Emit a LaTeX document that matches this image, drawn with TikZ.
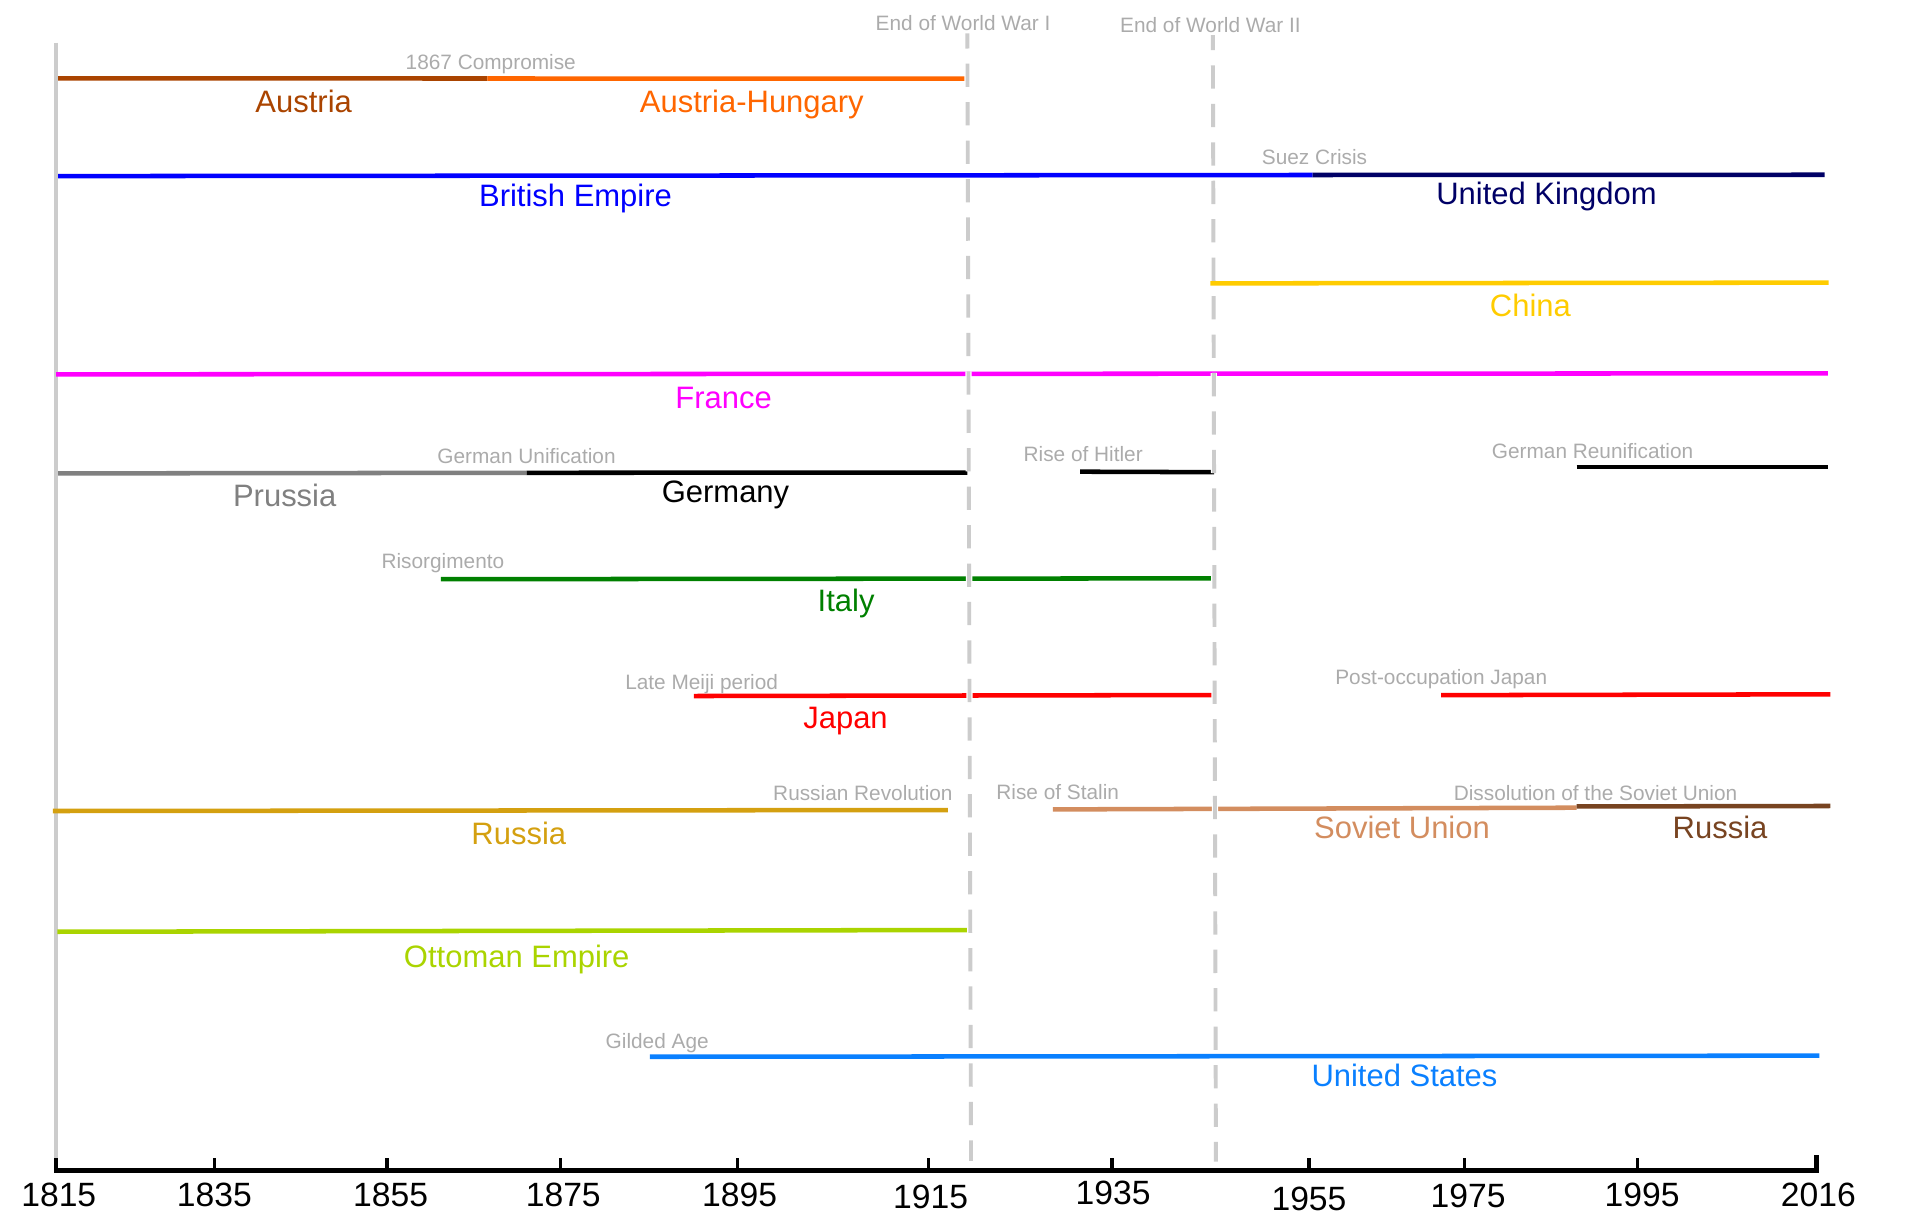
\documentclass[tikz,border=0pt]{standalone}
\usepackage{fontspec}
\setmainfont{Liberation Sans}
\definecolor{notegray}{HTML}{ABABAB}
\definecolor{linegray}{HTML}{CCCCCC}
\definecolor{cAustria}{HTML}{AA4400}
\definecolor{cAH}{HTML}{FF6600}
\definecolor{cBritish}{HTML}{0000FF}
\definecolor{cUK}{HTML}{000066}
\definecolor{cChina}{HTML}{FFCC00}
\definecolor{cFrance}{HTML}{FF00FF}
\definecolor{cPrussia}{HTML}{808080}
\definecolor{cGermany}{HTML}{000000}
\definecolor{cItaly}{HTML}{008000}
\definecolor{cJapan}{HTML}{FF0000}
\definecolor{cRussia}{HTML}{D4A010}
\definecolor{cSoviet}{HTML}{D38D5F}
\definecolor{cRussiaNew}{HTML}{784421}
\definecolor{cOttoman}{HTML}{AAD400}
\definecolor{cUS}{HTML}{0A80FF}
\begin{document}
\begin{tikzpicture}[x=0.5pt,y=-0.5pt,
  bar/.style={line width=1.85pt,line cap=butt},
  mainlbl/.style={anchor=base,inner sep=0pt,font=\fontsize{12.65}{15}\selectfont},
  notelbl/.style={anchor=base,inner sep=0pt,text=notegray,font=\fontsize{8.5}{10}\selectfont},
  yearlbl/.style={anchor=base,inner sep=0pt,font=\fontsize{13.75}{16}\selectfont},
  warhalo/.style={draw=white,line width=2.6pt,dash pattern=on 9.5pt off 6.2pt,dash phase=3.3pt},
  warline/.style={draw=linegray,line width=1.6pt,dash pattern=on 9.5pt off 6.2pt,dash phase=3.3pt},
  tickline/.style={line width=1.35pt,black},
  axisline/.style={line width=1.9pt,black,line join=miter}]
\useasboundingbox (0,0) rectangle (1568,1003.6);

% left vertical reference line
\coordinate (vtop) at (45.8,34.8);
\coordinate (vbot) at (45.8,950);
\draw[linegray,line width=1.55pt] (vtop) -- (vbot);

% ---------- coordinates of bars ----------
\coordinate (aus1) at (47.5,64);
\coordinate (aus2) at (398,64.1);
\coordinate (ah2) at (788,64.2);
\coordinate (be1) at (47.5,143.8);
\coordinate (be2) at (1072,142.9);
\coordinate (uk2) at (1490,142.7);
\coordinate (ch1) at (988.5,231.4);
\coordinate (ch2) at (1493.4,230.8);
\coordinate (fr1) at (45.8,305.7);
\coordinate (fr2) at (1492.8,304.9);
\coordinate (pr1) at (47.5,386.6);
\coordinate (pr2) at (430,386.1);
\coordinate (ge2) at (790,385.9);
\coordinate (hi1) at (882,385.2);
\coordinate (hi2) at (991.6,385.6);
\coordinate (gr1) at (1287.5,381.4);
\coordinate (gr2) at (1493.2,381.4);
\coordinate (it1) at (360,473);
\coordinate (it2) at (990,472.3);
\coordinate (jp1) at (566.7,568.4);
\coordinate (jp2) at (990,567.6);
\coordinate (pj1) at (1177,567.7);
\coordinate (pj2) at (1494.8,567);
\coordinate (ru1) at (43.2,662.3);
\coordinate (ru2) at (774,661.5);
\coordinate (su1) at (859.9,661);
\coordinate (su2) at (1287.5,659.6);
\coordinate (rn2) at (1494.8,658.2);
\coordinate (rn1) at (1287.5,658.6);
\coordinate (ot1) at (46.9,760.9);
\coordinate (ot2) at (791,759.5);
\coordinate (us1) at (530.8,863);
\coordinate (us2) at (1485.8,862.1);

% ---------- bars ----------
\draw[bar,cAustria] (aus1) -- (aus2);
\draw[bar,cAH] (aus2) -- (ah2);
\draw[bar,cBritish] (be1) -- (be2);
\draw[bar,cUK] (be2) -- (uk2);
\draw[bar,cChina] (ch1) -- (ch2);
\draw[bar,cFrance] (fr1) -- (fr2);
\draw[bar,cPrussia] (pr1) -- (pr2);
\draw[bar,cGermany] (pr2) -- (ge2);
\draw[bar,cGermany] (hi1) -- (hi2);
\draw[bar,cGermany] (gr1) -- (gr2);
\draw[bar,cItaly] (it1) -- (it2);
\draw[bar,cJapan] (jp1) -- (jp2);
\draw[bar,cJapan] (pj1) -- (pj2);
\draw[bar,cRussia] (ru1) -- (ru2);
\draw[bar,cSoviet] (su1) -- (su2);
\draw[bar,cRussiaNew] (rn1) -- (rn2);
\draw[bar,cOttoman] (ot1) -- (ot2);
\draw[bar,cUS] (us1) -- (us2);

% ---------- war lines ----------
\coordinate (w1top) at (790,27.2);
\coordinate (w1bot) at (793,948);
\coordinate (w2top) at (990.5,28.6);
\coordinate (w2bot) at (993,948.7);
\draw[warhalo] (w1top) -- (w1bot);
\draw[warline] (w1top) -- (w1bot);
\draw[warhalo] (w2top) -- (w2bot);
\draw[warline] (w2top) -- (w2bot);

% ---------- main labels ----------
\node[mainlbl,text=cAustria] (lAustria) at (248,91.6) {Austria};
\node[mainlbl,text=cAH] (lAH) at (614,91.8) {Austria-Hungary};
\node[mainlbl,text=cBritish] (lBE) at (470,168.8) {British Empire};
\node[mainlbl,text=cUK] (lUK) at (1263,167.3) {United Kingdom};
\node[mainlbl,text=cChina] (lChina) at (1249.8,258.4) {China};
\node[mainlbl,text=cFrance] (lFrance) at (591,333.2) {France};
\node[mainlbl,text=cPrussia] (lPrussia) at (232.5,413.4) {Prussia};
\node[mainlbl,text=cGermany] (lGermany) at (592.5,410.2) {Germany};
\node[mainlbl,text=cItaly] (lItaly) at (691,499.2) {Italy};
\node[mainlbl,text=cJapan] (lJapan) at (690.5,594.8) {Japan};
\node[mainlbl,text=cRussia] (lRussia) at (423.7,689.8) {Russia};
\node[mainlbl,text=cSoviet] (lSoviet) at (1145,685) {Soviet Union};
\node[mainlbl,text=cRussiaNew] (lRussiaNew) at (1404.7,685) {Russia};
\node[mainlbl,text=cOttoman] (lOttoman) at (422,790.4) {Ottoman Empire};
\node[mainlbl,text=cUS] (lUS) at (1147,887.6) {United States};

% ---------- event notes ----------
\node[notelbl] (nWW1) at (786.5,24.5) {End of World War I};
\node[notelbl] (nWW2) at (988.5,26.2) {End of World War II};
\node[notelbl] (n1867) at (400.8,56.6) {1867 Compromise};
\node[notelbl] (nSuez) at (1073.5,134.6) {Suez Crisis};
\node[notelbl] (nGU) at (430,378.4) {German Unification};
\node[notelbl] (nHitler) at (884.6,377.2) {Rise of Hitler};
\node[notelbl] (nGR) at (1300.6,374.4) {German Reunification};
\node[notelbl] (nRis) at (361.7,464.6) {Risorgimento};
\node[notelbl] (nMeiji) at (573,563.4) {Late Meiji period};
\node[notelbl] (nPost) at (1177,559) {Post-occupation Japan};
\node[notelbl] (nRR) at (704.7,654) {Russian Revolution};
\node[notelbl] (nStalin) at (863.8,652.8) {Rise of Stalin};
\node[notelbl] (nDiss) at (1303,654) {Dissolution of the Soviet Union};
\node[notelbl] (nGilded) at (536.7,856.6) {Gilded Age};

% ---------- time axis ----------
\coordinate (a0t) at (45.7,946);
\coordinate (a0) at (45.7,955.9);
\coordinate (a1) at (1483.6,955.9);
\coordinate (a1t) at (1483.6,943);
\draw[axisline] (a0t) -- (a0) -- (a1) -- (a1t);
\foreach \tx/\nm in {175/t1835,316/t1855,458/t1875,602/t1895,758/t1915,908/t1935,1069/t1955,1196/t1975,1337.4/t1995}{
  \coordinate (\nm a) at (\tx,946);
  \coordinate (\nm b) at (\tx,955);
  \draw[tickline] (\nm a) -- (\nm b);
}
\node[yearlbl] (y1815) at (48,985.4) {1815};
\node[yearlbl] (y1835) at (175,985.4) {1835};
\node[yearlbl] (y1855) at (319,985.4) {1855};
\node[yearlbl] (y1875) at (460,985.4) {1875};
\node[yearlbl] (y1895) at (604,985.4) {1895};
\node[yearlbl] (y1915) at (760,986.8) {1915};
\node[yearlbl] (y1935) at (909,984) {1935};
\node[yearlbl] (y1955) at (1069,988.2) {1955};
\node[yearlbl] (y1975) at (1199,986.4) {1975};
\node[yearlbl] (y1995) at (1341,985.4) {1995};
\node[yearlbl] (y2016) at (1485,985.4) {2016};
\end{tikzpicture}
\end{document}
